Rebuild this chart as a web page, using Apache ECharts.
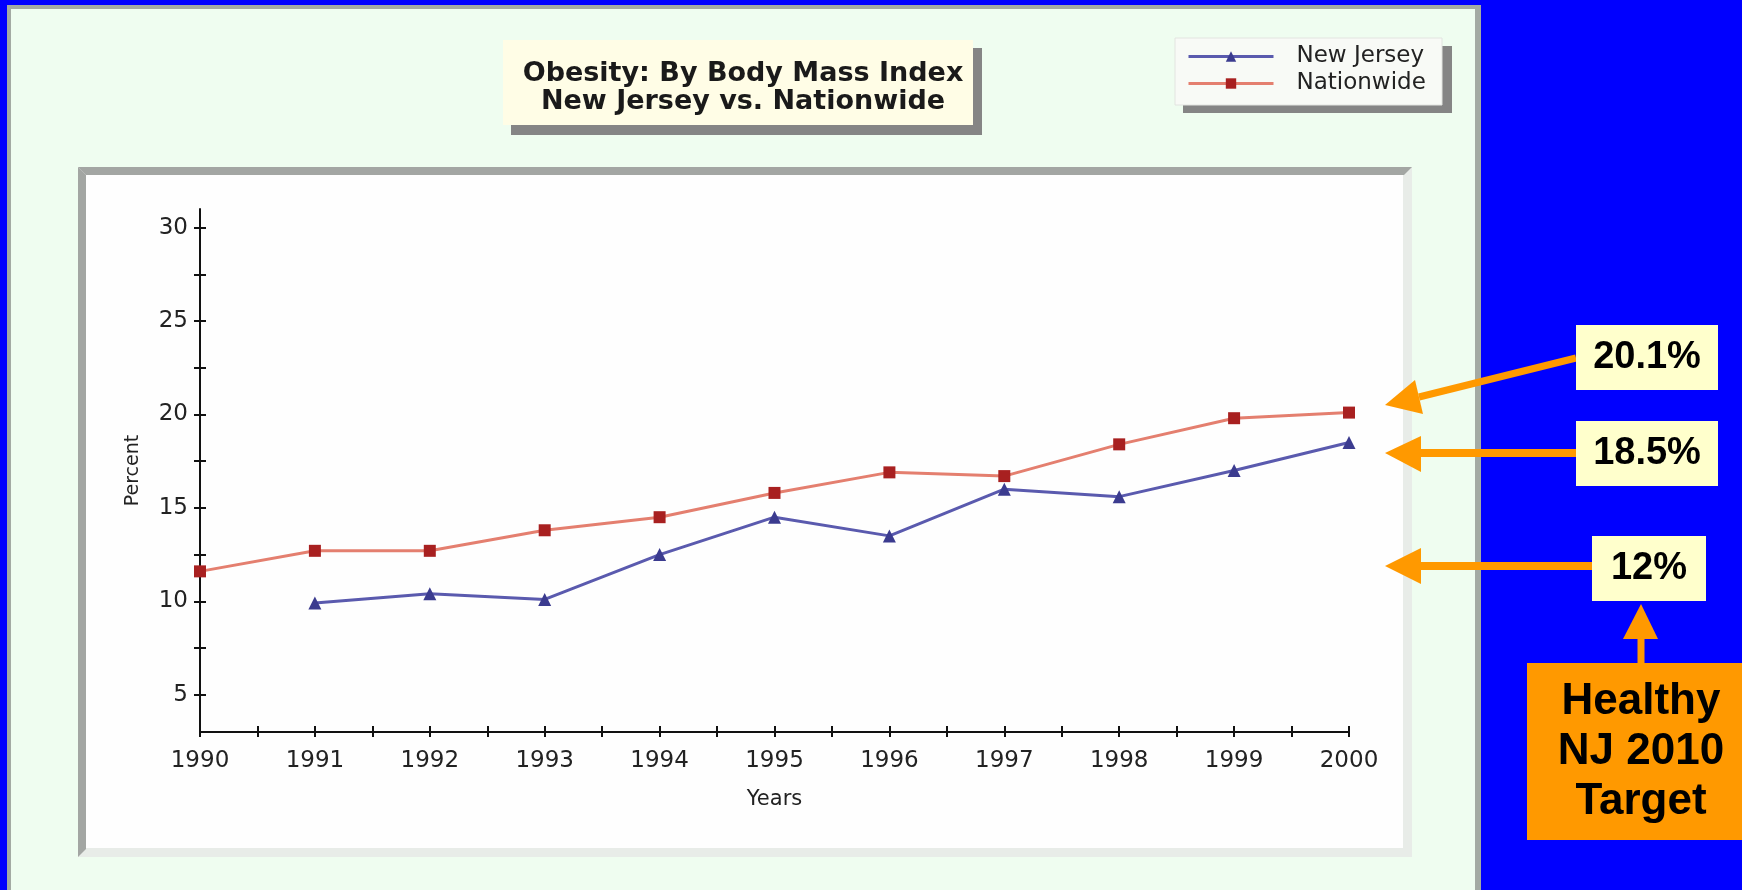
<!DOCTYPE html>
<html>
<head>
<meta charset="utf-8">
<title>Obesity: By Body Mass Index</title>
<script src="https://cdn.jsdelivr.net/npm/echarts@6/dist/echarts.min.js"></script>
<style>
  html, body { margin: 0; padding: 0; background: #0000ff; }
  #chart { width: 1742px; height: 890px; }
</style>
</head>
<body>
<div id="chart"></div>
<script>
// Survey years and obesity rates (percent of adults, by BMI)
const years = [1990, 1991, 1992, 1993, 1994, 1995, 1996, 1997, 1998, 1999, 2000];
const newJersey = [null, 9.9, 10.4, 10.1, 12.5, 14.5, 13.5, 16.0, 15.6, 17.0, 18.5];
const nationwide = [11.6, 12.7, 12.7, 13.8, 14.5, 15.8, 16.9, 16.7, 18.4, 19.8, 20.1];

// Axis ticks and labels
const xTicks = [1990, 1990.5, 1991, 1991.5, 1992, 1992.5, 1993, 1993.5, 1994, 1994.5, 1995,
                1995.5, 1996, 1996.5, 1997, 1997.5, 1998, 1998.5, 1999, 1999.5, 2000];
const yTicks = [5, 7.5, 10, 12.5, 15, 17.5, 20, 22.5, 25, 27.5, 30];
const yLabels = [5, 10, 15, 20, 25, 30];

// Callout texts on the right side
const callouts = ['20.1%', '18.5%', '12%'];
const targetText = 'Healthy\nNJ 2010\nTarget';

const pairs = (vals) => years.map((y, i) => [y, vals[i]]);

const chart = echarts.init(document.getElementById('chart'), null, { renderer: 'canvas' });

const ORANGE = '#ff9900';
const axisFont = { fontFamily: 'DejaVu Sans', fontSize: 23, color: '#222' };

function arrowHead(tip, b1, b2) {
  return { type: 'polygon', z: 50, shape: { points: [tip, b1, b2] }, style: { fill: ORANGE } };
}
function shaft(p1, p2, w) {
  return { type: 'line', z: 49, shape: { x1: p1[0], y1: p1[1], x2: p2[0], y2: p2[1] },
           style: { stroke: ORANGE, lineWidth: w } };
}
function calloutBox(x, y, w, h, text) {
  return [
    { type: 'rect', z: 50, shape: { x: x, y: y, width: w, height: h }, style: { fill: '#ffffcc' } },
    { type: 'text', z: 51, x: x + w / 2, y: y + h / 2,
      style: { text: text, fill: '#000', font: 'bold 38px "Liberation Sans", Arial, sans-serif',
               align: 'center', verticalAlign: 'middle' } }
  ];
}

const graphics = [
  // outer panel
  { type: 'rect', z: -20, shape: { x: 7, y: 5, width: 1474, height: 890 }, style: { fill: '#a3aaa3' } },
  { type: 'rect', z: -19, shape: { x: 11, y: 9, width: 1464, height: 890 }, style: { fill: '#effdf0' } },
  // plot panel with bevelled border
  { type: 'rect', z: -18, shape: { x: 78, y: 167, width: 1334, height: 690 }, style: { fill: '#e8ece8' } },
  { type: 'polygon', z: -17, shape: { points: [[78, 167], [1412, 167], [1404, 175], [86, 175]] }, style: { fill: '#a3a6a3' } },
  { type: 'polygon', z: -17, shape: { points: [[78, 167], [86, 175], [86, 849], [78, 857]] }, style: { fill: '#a3a6a3' } },
  { type: 'rect', z: -16, shape: { x: 86, y: 175, width: 1317, height: 673 }, style: { fill: '#fefefe' } },
  // title box
  { type: 'rect', z: -15, shape: { x: 511, y: 48, width: 471, height: 87 }, style: { fill: '#858585' } },
  { type: 'rect', z: -14, shape: { x: 503, y: 40, width: 470, height: 85 }, style: { fill: '#fffde6' } },
  // legend box
  { type: 'rect', z: -15, shape: { x: 1183, y: 46, width: 269, height: 67 }, style: { fill: '#858585' } },
  { type: 'rect', z: -14, shape: { x: 1175, y: 38, width: 267, height: 67 }, style: { fill: '#f8faf6', stroke: '#e2e4e0', lineWidth: 1 } },

  // callout arrows
  shaft([1576, 358], [1419, 397], 7),
  arrowHead([1385, 405], [1415, 380], [1423, 414]),
  shaft([1576, 453], [1419, 453], 8),
  arrowHead([1385, 453], [1421, 436], [1421, 472]),
  shaft([1592, 566], [1419, 566], 8),
  arrowHead([1385, 566], [1421, 548], [1421, 584]),
  ...calloutBox(1576, 325, 142, 65, callouts[0]),
  ...calloutBox(1576, 421, 142, 65, callouts[1]),
  ...calloutBox(1592, 536, 114, 65, callouts[2]),
  // target box with arrow up to the 12% callout
  shaft([1641, 663], [1641, 637], 7),
  arrowHead([1641, 604], [1623, 639], [1658, 639]),
  { type: 'rect', z: 50, shape: { x: 1527, y: 663, width: 230, height: 177 }, style: { fill: ORANGE } },
  { type: 'text', z: 51, x: 1641, y: 752,
    style: { text: targetText, fill: '#000', font: 'bold 44px "Liberation Sans", Arial, sans-serif',
             lineHeight: 50, align: 'center', verticalAlign: 'middle' } }
];

const option = {
  backgroundColor: '#0000ff',
  animation: false,
  title: {
    text: 'Obesity: By Body Mass Index\nNew Jersey vs. Nationwide',
    left: 738, top: 55, textAlign: 'center',
    textStyle: { fontFamily: 'DejaVu Sans', fontWeight: 'bold', fontSize: 27, lineHeight: 28, color: '#1a1a1a' }
  },
  legend: {
    orient: 'vertical', left: 1182, top: 40, itemWidth: 85, itemHeight: 13, itemGap: 4,
    selectedMode: false,
    data: ['New Jersey', 'Nationwide'],
    lineStyle: { width: 3 },
    textStyle: { fontFamily: 'DejaVu Sans', fontSize: 23, color: '#222', padding: [0, 0, 0, 18] }
  },
  grid: { left: 200, right: 393, top: 209, bottom: 158, containLabel: false },
  xAxis: [
    {
      type: 'value', min: 1990, max: 2000, interval: 0.5, position: 'bottom',
      name: 'Years', nameLocation: 'middle', nameGap: 57,
      nameTextStyle: { fontFamily: 'DejaVu Sans', fontSize: 21, color: '#222' },
      axisLine: { show: true, onZero: false, lineStyle: { color: '#111', width: 2 } },
      axisTick: { show: true, length: 5, customValues: xTicks, lineStyle: { color: '#111', width: 2 } },
      axisLabel: Object.assign({ customValues: years, margin: 18, formatter: (v) => String(v) }, axisFont),
      splitLine: { show: false }
    },
    {
      type: 'value', min: 1990, max: 2000, interval: 0.5, position: 'bottom', offset: 0,
      axisLine: { show: false, onZero: false },
      axisTick: { show: true, inside: true, length: 6, customValues: xTicks, lineStyle: { color: '#111', width: 2 } },
      axisLabel: { show: false },
      splitLine: { show: false }
    }
  ],
  yAxis: [
    {
      type: 'value', min: 3, max: 31, position: 'left',
      name: 'Percent', nameLocation: 'middle', nameGap: 57, nameRotate: 90,
      nameTextStyle: { fontFamily: 'DejaVu Sans', fontSize: 19, color: '#222' },
      axisLine: { show: true, onZero: false, lineStyle: { color: '#111', width: 2 } },
      axisTick: { show: true, length: 6, customValues: yTicks, lineStyle: { color: '#111', width: 2 } },
      axisLabel: Object.assign({ customValues: yLabels, margin: 12, formatter: (v) => String(v) }, axisFont),
      splitLine: { show: false }
    },
    {
      type: 'value', min: 3, max: 31, position: 'left', offset: 0,
      axisLine: { show: false, onZero: false },
      axisTick: { show: true, inside: true, length: 6, customValues: yTicks, lineStyle: { color: '#111', width: 2 } },
      axisLabel: { show: false },
      splitLine: { show: false }
    }
  ],
  series: [
    {
      name: 'New Jersey', type: 'line', data: pairs(newJersey), connectNulls: false,
      symbol: 'triangle', symbolSize: 13,
      lineStyle: { color: '#5a5aae', width: 3 },
      itemStyle: { color: '#3b3b8f' }
    },
    {
      name: 'Nationwide', type: 'line', data: pairs(nationwide),
      symbol: 'rect', symbolSize: 12,
      lineStyle: { color: '#e47f6f', width: 3 },
      itemStyle: { color: '#a82020' }
    }
  ],
  graphic: { elements: graphics }
};

chart.setOption(option);
</script>
</body>
</html>
